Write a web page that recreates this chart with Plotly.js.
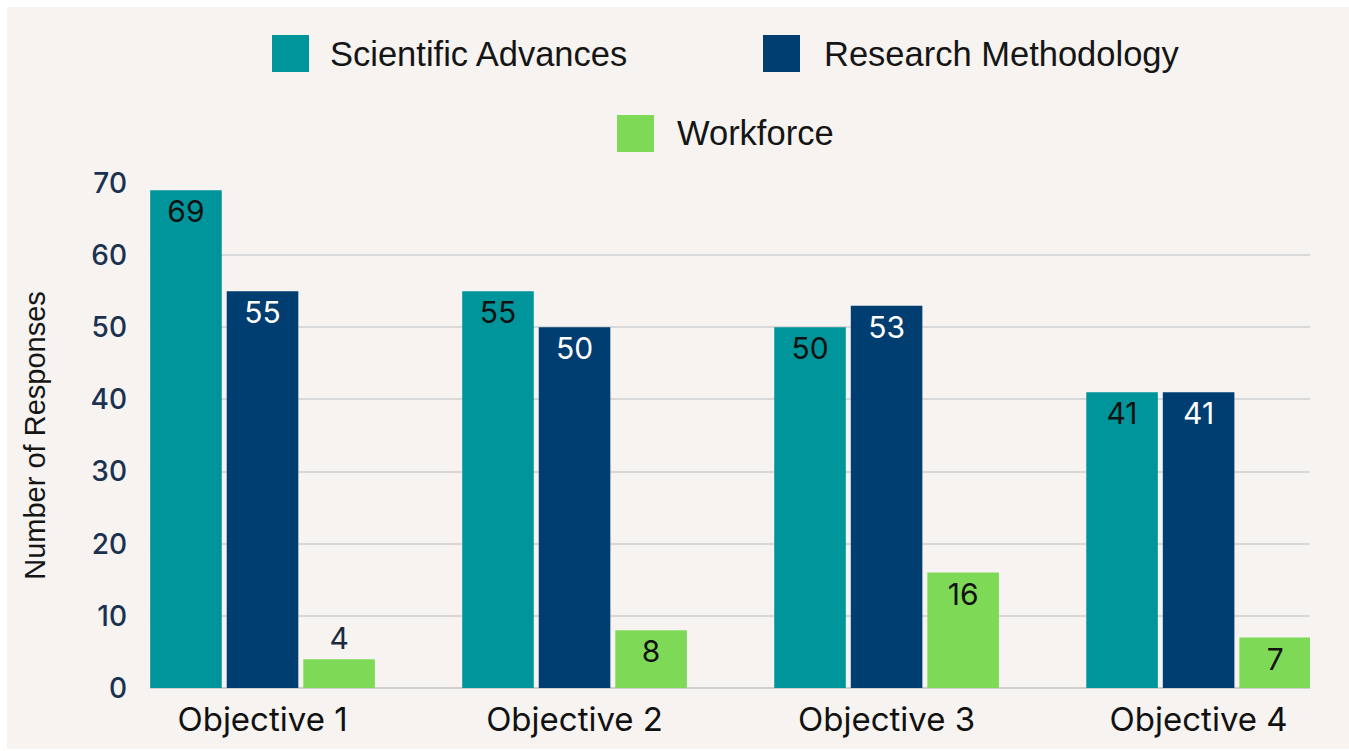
<!DOCTYPE html>
<html><head><meta charset="utf-8">
<script src="https://cdn.plot.ly/plotly-3.0.1.min.js"></script>
<style>html,body{margin:0;padding:0;background:#ffffff;overflow:hidden;} #chart{position:absolute;left:7px;top:7px;width:1342px;height:742px;}</style>
</head><body><div id="chart"></div><script>
// ---- data ----
const categories = ['Objective 1', 'Objective 2', 'Objective 3', 'Objective 4'];
const seriesNames = ['Scientific Advances', 'Research Methodology', 'Workforce'];
const scientificAdvances = [69, 55, 50, 41];
const researchMethodology = [55, 50, 53, 41];
const workforce = [4, 8, 16, 7];
const yTickVals = [0, 10, 20, 30, 40, 50, 60, 70];
const yTitle = 'Number of Responses';

// ---- styles ----
const colors = ['#00959A', '#003D70', '#7ED957'];
const labelColors = ['#111111', '#ffffff', '#111111'];
const numFont = 'Inter, "Noto Sans", sans-serif';
const txtFont = '"Liberation Sans", Arial, sans-serif';

function labelPositions(vals) { return vals.map(v => v < 6 ? 'outside' : 'inside'); }

const seriesValues = [scientificAdvances, researchMethodology, workforce];
const traces = seriesValues.map((vals, i) => ({
  type: 'bar',
  name: seriesNames[i],
  x: categories,
  y: vals,
  text: vals.map(String),
  textposition: labelPositions(vals),
  insidetextanchor: 'end',
  constraintext: 'none',
  textfont: {family: numFont, size: 30, color: labelColors[i]},
  outsidetextfont: {family: numFont, size: 30, color: '#1b2b3d'},
  insidetextfont: {family: numFont, size: 30, color: labelColors[i]},
  marker: {color: colors[i], line: {width: 0}},
  hoverinfo: 'none',
  cliponaxis: false
}));

// plot area in page pixels (for legend placement)
const PA = {x0: 150, x1: 1310, y0: 183, y1: 688};
const fx = px => (px - PA.x0) / (PA.x1 - PA.x0);
const fy = py => (PA.y1 - py) / (PA.y1 - PA.y0);
const legendSpots = [
  {sx: 272, sy: 35, tx: 328},
  {sx: 763, sy: 35, tx: 822},
  {sx: 617, sy: 115, tx: 675}
];
const swatch = 37;
const shapes = [], annotations = [];
legendSpots.forEach((s, i) => {
  shapes.push({type: 'rect', xref: 'paper', yref: 'paper',
    x0: fx(s.sx), x1: fx(s.sx + swatch), y0: fy(s.sy + swatch), y1: fy(s.sy),
    fillcolor: colors[i], line: {width: 0}});
  annotations.push({xref: 'paper', yref: 'paper', x: fx(s.tx), y: fy(s.sy + swatch / 2),
    xanchor: 'left', yanchor: 'middle', showarrow: false, text: seriesNames[i],
    font: {family: txtFont, size: 34.5, color: '#151515'}});
});

const layout = {
  width: 1342, height: 742,
  paper_bgcolor: '#F6F3F0', plot_bgcolor: '#F6F3F0',
  margin: {l: 143, r: 39, t: 176, b: 61, pad: 0},
  showlegend: false,
  barmode: 'group',
  bargap: 0.264,
  bargroupgap: 0.065,
  xaxis: {
    type: 'category', range: [-0.3606, 3.357], fixedrange: true,
    showgrid: false, zeroline: false, showline: false, ticks: '',
    tickfont: {family: numFont, size: 33, color: '#111111'},
    ticklabelstandoff: 9
  },
  yaxis: {
    range: [0, 70], fixedrange: true,
    tickvals: yTickVals, ticktext: yTickVals.map(String),
    showgrid: true, gridcolor: '#D8D8D8', gridwidth: 2,
    zeroline: true, zerolinecolor: '#CFCFCF', zerolinewidth: 2,
    showline: false, ticks: '',
    tickfont: {family: numFont, size: 28, color: '#1b3150', weight: 500},
    ticklabelstandoff: 22,
    automargin: false,
    title: {text: yTitle, font: {family: txtFont, size: 29, color: '#151515'}, standoff: 36}
  },
  shapes: shapes,
  annotations: annotations
};

Plotly.newPlot('chart', traces, layout, {displayModeBar: false, staticPlot: true});
</script></body></html>
